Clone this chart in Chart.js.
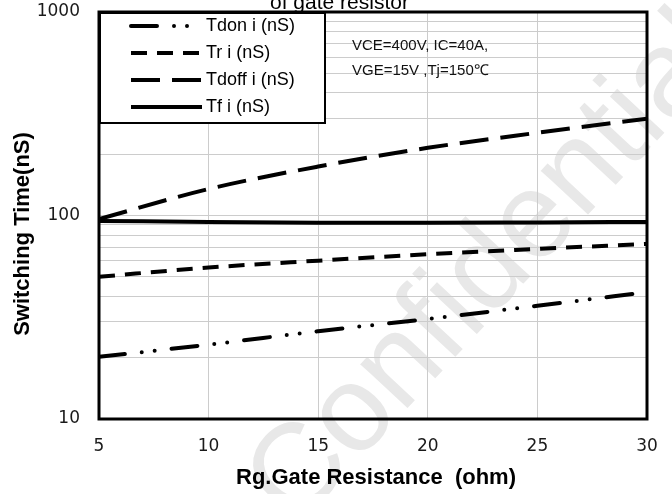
<!DOCTYPE html>
<html><head><meta charset="utf-8">
<script src="https://cdn.jsdelivr.net/npm/chart.js@4/dist/chart.umd.min.js"></script>
<style>html,body{margin:0;padding:0;background:#fff;overflow:hidden}#wrap{width:672px;height:494px;position:relative}</style>
</head><body><div id="wrap"><canvas id="c" width="672" height="494"></canvas></div>
<script>
// ---- data ----
const rg    = [5, 10, 15, 20, 25, 30];
const tdon  = [20.2, 23.2, 27.0, 31.0, 36.0, 42.0];
const tr    = [50.0, 55.5, 60.0, 64.5, 68.5, 72.5];
const tdoff = [96, 135, 174, 215, 255, 299];
const tf    = [94, 93, 92, 92, 92.5, 93];
const seriesNames = ['Tdon i (nS)', 'Tr i (nS)', 'Tdoff i (nS)', 'Tf i (nS)'];
const xTicks = [5, 10, 15, 20, 25, 30];
const yMajor = [10, 100, 1000];
const titleText = 'of gate resistor';
const noteLines = ['VCE=400V, IC=40A,', 'VGE=15V ,Tj=150\u2103'];
const xTitle = 'Rg.Gate Resistance  (ohm)';
const yTitle = 'Switching Time(nS)';
const watermark = 'Confidential';

// ---- styles ----
const dashes = [[26, 17, 0, 13, 0, 17], [16, 10], [29, 12], []];
const yGrid = [];
for (let i = 0; i < yMajor.length - 1; i++) for (let k = 1; k < 10; k++) yGrid.push(yMajor[i] * k);
yGrid.push(yMajor[yMajor.length - 1]);

const pts = arr => rg.map((x, i) => ({x, y: arr[i]}));
const datasets = [tdon, tr, tdoff, tf].map((arr, i) => ({
  label: seriesNames[i], data: pts(arr), borderColor: '#000', borderWidth: 4,
  borderDash: dashes[i], borderCapStyle: i === 0 ? 'round' : 'butt',
  pointRadius: 0, cubicInterpolationMode: 'monotone', fill: false
}));

const deco = {
  id: 'deco',
  beforeDraw(chart) {
    const ctx = chart.ctx;
    ctx.save();
    ctx.fillStyle = '#fff'; ctx.fillRect(0, 0, chart.width, chart.height);
    // watermark
    ctx.translate(295, 468);
    ctx.rotate(-47 * Math.PI / 180);
    const F = 122;
    ctx.font = F + 'px "Liberation Sans", Arial, sans-serif';
    ctx.fillStyle = '#e8e8e8';
    ctx.textBaseline = 'alphabetic'; ctx.textAlign = 'left';
    ctx.fillText(watermark, -0.36 * F, 0.34 * F);
    ctx.restore();
  },
  afterDatasetsDraw(chart) {
    const ctx = chart.ctx, a = chart.chartArea;
    ctx.save();
    // frame
    ctx.strokeStyle = '#000'; ctx.lineWidth = 3;
    ctx.strokeRect(a.left, a.top, a.right - a.left, a.bottom - a.top);
    // legend box
    const lx = a.left, ly = a.top, lw = 226, lh = 111;
    ctx.fillStyle = '#fff'; ctx.fillRect(lx, ly, lw, lh);
    ctx.lineWidth = 2; ctx.strokeRect(lx + 1, ly + 1, lw - 1, lh - 1);
    const rows = [26, 53, 80, 107];
    ctx.font = '18px "Liberation Sans", Arial, sans-serif';
    ctx.textBaseline = 'middle'; ctx.textAlign = 'left';
    chart.data.datasets.forEach((ds, i) => {
      const y = rows[i];
      ctx.beginPath(); ctx.setLineDash(ds.borderDash); ctx.lineCap = ds.borderCapStyle;
      ctx.lineWidth = 4; ctx.strokeStyle = '#000';
      ctx.moveTo(131, y); ctx.lineTo(202, y); ctx.stroke();
      ctx.setLineDash([]);
      ctx.fillStyle = '#000'; ctx.fillText(ds.label, 206, y);
    });
    // note
    ctx.font = '15px "Liberation Sans", Arial, sans-serif';
    ctx.fillStyle = '#111';
    ctx.fillText(noteLines[0], 352, 46);
    ctx.fillText(noteLines[1], 352, 71);
    ctx.restore();
  },
  afterDraw(chart) {
    const ctx = chart.ctx;
    ctx.save();
    ctx.fillStyle = '#000';
    ctx.font = '21px "Liberation Sans", Arial, sans-serif';
    ctx.textAlign = 'left'; ctx.textBaseline = 'alphabetic';
    ctx.fillText(titleText, 270, 9);
    ctx.font = 'bold 22px "Liberation Sans", Arial, sans-serif';
    ctx.textAlign = 'center'; ctx.textBaseline = 'middle';
    ctx.fillText(xTitle, 376, 478);
    ctx.translate(23, 234); ctx.rotate(-Math.PI / 2);
    ctx.fillText(yTitle, 0, 0);
    ctx.restore();
  }
};

new Chart(document.getElementById('c'), {
  type: 'line',
  data: { datasets },
  plugins: [deco],
  options: {
    responsive: false, animation: false, devicePixelRatio: 1,
    layout: { padding: { top: 12, right: 25, left: 0, bottom: 0 } },
    plugins: { legend: { display: false }, tooltip: { enabled: false }, title: { display: false } },
    scales: {
      x: {
        type: 'linear', min: 5, max: 30,
        afterBuildTicks: s => { s.ticks = xTicks.map(v => ({ value: v })); },
        afterFit: s => { s.height = 75; s.paddingLeft = 0; s.paddingRight = 0; },
        grid: { color: '#cccccc', lineWidth: 1, drawTicks: false },
        border: { display: false },
        ticks: { padding: 17, autoSkip: false, maxRotation: 0, color: '#1a1a1a',
                 font: { family: '"DejaVu Sans", Verdana, sans-serif', size: 17 } }
      },
      y: {
        type: 'logarithmic', min: 10, max: 1000,
        afterBuildTicks: s => { s.ticks = yGrid.map(v => ({ value: v })); },
        afterFit: s => { s.width = 99; s.paddingTop = 0; s.paddingBottom = 0; },
        grid: { color: '#cccccc', lineWidth: 1, drawTicks: false },
        border: { display: false },
        ticks: { padding: 19, autoSkip: false, color: '#1a1a1a',
                 font: { family: '"DejaVu Sans", Verdana, sans-serif', size: 17 },
                 callback: v => yMajor.includes(v) ? String(v) : '' }
      }
    }
  }
});
</script></body></html>
